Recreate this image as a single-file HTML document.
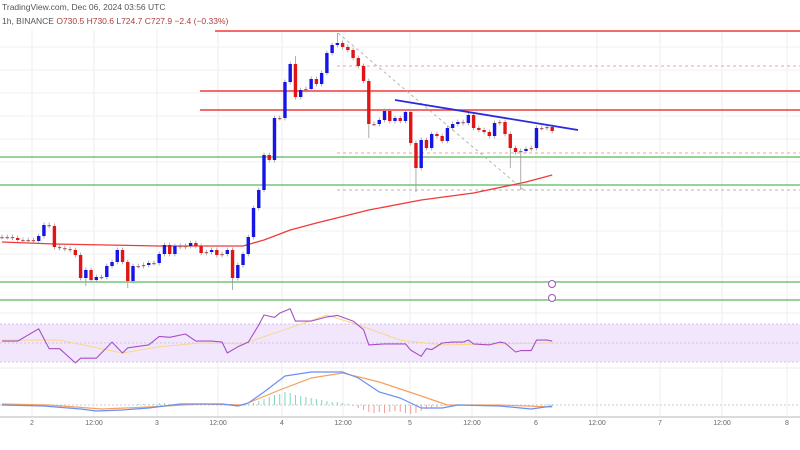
<!DOCTYPE html>
<html><head><meta charset="utf-8"><style>
body{margin:0;background:#fff;width:800px;height:450px;overflow:hidden;font-family:"Liberation Sans",sans-serif}
svg{display:block}
</style></head><body>
<svg id="c" width="800" height="450" xmlns="http://www.w3.org/2000/svg">
<text x="2" y="10" font-size="8.5" fill="#555">TradingView.com, Dec 06, 2024 03:56 UTC</text>
<text x="2" y="24" font-size="8.5" fill="#555">1h, BINANCE <tspan fill="#b23b3b">O730.5 H730.6 L724.7 C727.9 −2.4 (−0.33%)</tspan></text>
</svg>
<script>
// ---- data ----
const open0 = 681.5;
const closes = [681.5,681.5,681,680,679.5,680,679.5,682,687.5,687,676.5,676,675.5,675,672.5,661,665,660,661.5,661.5,667,669,675,669,659.5,667,667,667.5,668.5,668.5,673,677.5,673,677,676.5,677,678.5,677,673.5,674,675,672.5,673,675,661,667.5,673,681.5,696,705,722.5,720,741,741,759,768,751.5,755,755.5,760.5,758,763.5,773.5,777.5,778.5,776.5,775,771,767,759.5,738,738,740,744.5,739.5,741,739.5,744,728.5,716,730,726,733,732,729.5,736,738,739,738.5,742.5,736,735,734,732,738.5,739,733,726,724,724.5,725.5,726,736,736,736.5,734.5];
const wickIdx = [24,44,64,70,79,97,99,56,16];
const wickVal = [656,655,783.5,731,704,716,705,772,657];
const maIdx = [0,10,20,30,40,46,50,55,60,70,80,90,100,105];
const maVal = [679,678,677.5,677,677,677,680,685,688.5,695,700,703.5,709,712.5];
const rsiIdx = [0,3,7,9,11,14,15,18,21,23,24,28,30,32,35,37,40,42,43,45,47,49,50,52,53,55,56,59,62,64,67,69,70,73,77,78,80,81,82,84,86,88,89,90,93,95,96,98,99,101,102,104,105];
const rsiVal = [52,52,65,44,44,29,34,34,51,39.5,45,48,57,56,59.5,52,52,51,39.5,46,51,69,79.5,77,81.5,86,73,73,77.5,79,73,64,48,49,49,42.5,36,44,43,50,51,51,53,49,48,51,50,40.5,42,42,53,53,52];
const rsiMaIdx = [0,11,23,30,38,46,55,62,68,76,84,95,105];
const rsiMaVal = [53,53,39.5,46,50,49,66,79.5,69,53,48,49,50];
const macdIdx = [0,8,15,18,23,28,34,42,45,47,50,54,59,65,68,72,76,80,84,87,95,101,105];
const macdVal = [0,-1,-4,-6,-5,-3,1,1,-1,2,13,29,33,33,27,13,7,-3,-3,0,-1,-4,-1];
const sigIdx = [0,9,19,28,38,46,53,59,65,72,80,85,95,105];
const sigVal = [1,0,-4,-2,1,0,15,27,32,23,9,0,0,-2];
const hist = [0,0,0,0,0,0,0,0,0,0,0,0,0,0,0,0,0,0,0,0,0,0,0,0,0,0,1,1,1,1,2,2,1,1,1,1,1,1,1,0,0,0,0,0,0,0,0,1,2,4,6,8,10,11,13,12,10,9,8,7,6,5,4,3,3,2,1,-1,-3,-5,-7,-8,-7,-8,-7,-6,-7,-8,-9,-8,-6,-4,-3,-2,-1,0,0,0,0,0,0,0,0,0,0,0,0,0,0,0,0,0,0,1,1,1];
const xTickLabels = ["2","12:00","3","12:00","4","12:00","5","12:00","6","12:00","7","12:00","8"];
const xTickPos = [32,94,157,218,282,343,410,472,536,597,660,722,787];
const hLevelsRed = [784.5,754.5,745];
const hLevelsRedStart = [215,200,200];
const hLevelsGreen = [721.5,707.5,659,650];
const hLevelsDash = [767,723.5,705];
// ---- scales ----
const X = i => 2 + i*5.24;
const Y = p => (800 - p)*2;
const RY = v => 343 - (v-50)*0.95;
const MY = v => 405 - v*1.0;
const NS='http://www.w3.org/2000/svg';
const svg=document.getElementById('c');
function mk(t,a,parent){const e=document.createElementNS(NS,t);for(const k in a)e.setAttribute(k,a[k]);(parent||svg).appendChild(e);return e;}
const g0=mk('g',{});
svg.insertBefore(g0,svg.firstChild);
// grid
xTickPos.forEach((x,i)=>{
  const l=mk('line',{x1:x,x2:x,y1:30,y2:417,stroke:'#eeeeee','stroke-width':1},g0);
  
  
  const t=mk('text',{x:x,y:425,'font-size':7,fill:'#666','text-anchor':'middle'});
  t.textContent=xTickLabels[i];
  
  
});
for(let y=47;y<300;y+=23){const l=mk('line',{x1:0,x2:800,y1:y,y2:y,stroke:'#f1f1f1'},g0);
  
  }
const tb=mk('line',{x1:0,x2:800,y1:417,y2:417,stroke:'#cfcfcf','stroke-width':1.5},g0);


mk('line',{x1:0,x2:800,y1:313,y2:313,stroke:'#eeeeee'},g0);
mk('line',{x1:0,x2:800,y1:368,y2:368,stroke:'#eeeeee'},g0);
// RSI band
const band=mk('rect',{x:0,y:RY(70),width:800,height:RY(30)-RY(70),fill:'#f1e6fc'});


[70,50,30].forEach(v=>{mk('line',{x1:0,x2:800,y1:RY(v),y2:RY(v),stroke:'#c9b8d8','stroke-dasharray':'2,2','stroke-width':0.8});});
// levels
hLevelsRed.forEach((p,i)=>{const l=mk('line',{x1:hLevelsRedStart[i],x2:800,y1:Y(p),y2:Y(p),stroke:'#f03a3a','stroke-width':1.5});
  
  });
hLevelsGreen.forEach(p=>{const l=mk('line',{x1:0,x2:800,y1:Y(p),y2:Y(p),stroke:'#5cb85c','stroke-width':1.3});
  
  });
hLevelsDash.forEach((p,i)=>{const l=mk('line',{x1:337,x2:800,y1:Y(p),y2:Y(p),stroke:i==2?'#b5b5b5':'#f0a0a0','stroke-dasharray':'3,3','stroke-width':1});
  
  });
const dg=mk('line',{x1:338,y1:33,x2:525,y2:191,stroke:'#b5b5b5','stroke-dasharray':'3,3'});


// MA
function poly(idx,val,sy,color,w,name){
  const pts=idx.map((k,j)=>X(k).toFixed(1)+','+sy(val[j]).toFixed(1)).join(' ');
  const p=mk('polyline',{points:pts,fill:'none',stroke:color,'stroke-width':w,'stroke-linejoin':'round'});
  
  
}
poly(maIdx,maVal,Y,'#f03a3a',1.3,'moving-average-line');
// candles
let o=open0;
closes.forEach((c,i)=>{
  const up=c>=o; const col=up?'#1515e8':'#e01515';
  let hi=Math.max(o,c)+1.2, lo=Math.min(o,c)-1.2;
  const wi=wickIdx.indexOf(i);
  if(wi>=0){const v=wickVal[wi]; if(v>hi)hi=v; if(v<lo)lo=v;}
  const w=mk('line',{x1:X(i),x2:X(i),y1:Y(hi),y2:Y(lo),stroke:'#999','stroke-width':0.8});
  
  
  const top=Math.min(Y(o),Y(c)), h=Math.max(1.2,Math.abs(Y(o)-Y(c)));
  const b=mk('rect',{x:X(i)-1.7,y:top,width:3.4,height:h,fill:Math.abs(o-c)<0.6?'#b06060':col});
  
  
  o=c;
});
// trendline
const tl=mk('line',{x1:395,y1:100,x2:578,y2:130,stroke:'#2a2ae0','stroke-width':1.8});


// icons
[284,298].forEach(y=>{const c=mk('circle',{cx:552,cy:y,r:3.5,fill:'#fff',stroke:'#a050c0','stroke-width':1});
  
  });
// RSI
poly(rsiMaIdx,rsiMaVal,RY,'#f7d88a',1,'rsi-ma-line');
poly(rsiIdx,rsiVal,RY,'#a64fc4',1.1,'rsi-line');
// MACD
mk('line',{x1:0,x2:800,y1:MY(0),y2:MY(0),stroke:'#bbb','stroke-dasharray':'2,2','stroke-width':0.8});
hist.forEach((v,i)=>{if(!v)return;
  const r=mk('line',{x1:X(i),x2:X(i),y1:MY(0),y2:MY(v),stroke:v>0?'#7fd4c0':'#f39a9a','stroke-width':1});
  
  });
poly(sigIdx,sigVal,MY,'#f7a060',1.2,'macd-signal-line');
poly(macdIdx,macdVal,MY,'#6a8ff5',1.2,'macd-line');
</script>
</body></html>
